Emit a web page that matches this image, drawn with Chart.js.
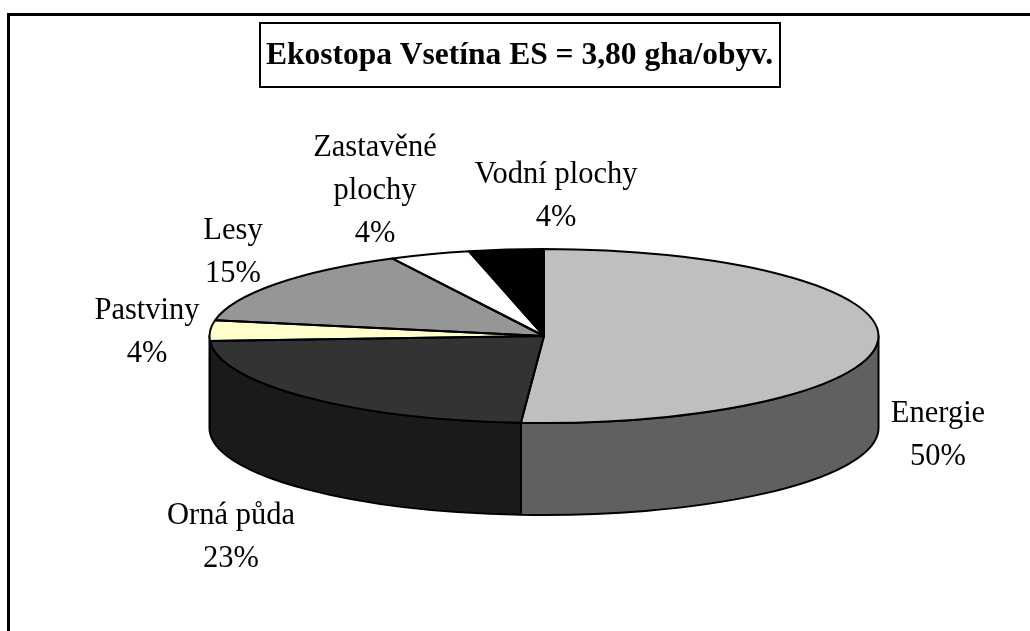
<!DOCTYPE html>
<html>
<head>
<meta charset="utf-8">
<style>
    html, body { margin: 0; padding: 0; background: #fff; overflow: hidden; }
    canvas { display: block; }
</style>
</head>
<body>
<canvas id="pieChart" width="1030" height="631"></canvas>
<script src="https://cdn.jsdelivr.net/npm/chart.js@4/dist/chart.umd.min.js"></script>
<script>
const chartTitle = "Ekostopa Vsetína ES = 3,80 gha/obyv."
const categories = ["Energie", "Orná půda", "Pastviny", "Lesy", "Zastavěné plochy", "Vodní plochy"]
//slice sizes as measured on the picture, the printed percents are rounded differently
const sliceValues = [51.1, 23.0, 3.8, 14.6, 3.9, 3.6]
const printedPercents = ["50%", "23%", "4%", "15%", "4%", "4%"]
const sliceColors = ["#bfbfbf", "#333333", "#ffffcc", "#969696", "#ffffff", "#000000"]
const wallColors = ["#606060", "#1a1a1a", "#808066", "#4b4b4b", "#808080", "#000000"]

const FONT = '"Liberation Serif", "Times New Roman", serif'
const LINE_HEIGHT = 43

//where the flat pie is squashed to
const pie = { cx: 544, cy: 336, rx: 334.5, ry: 87, depth: 92 }

//one entry per category: label centre x, first baseline y, text lines
const labelSpots = [
    { x: 938, y: 422, lines: ["Energie"] },
    { x: 231, y: 524, lines: ["Orná půda"] },
    { x: 147, y: 319, lines: ["Pastviny"] },
    { x: 233, y: 239, lines: ["Lesy"] },
    { x: 375, y: 156, lines: ["Zastavěné", "plochy"] },
    { x: 556, y: 183, lines: ["Vodní plochy"] }
]

function getArcs(chart) {
    return chart.getDatasetMeta(0).data
}

const pie3d = {
    id: "pie3d",
    beforeDraw(chart) {
        const ctx = chart.ctx
        //frame, only top and left are inside the picture
        ctx.save()
        ctx.strokeStyle = "#000"
        ctx.lineWidth = 3
        ctx.beginPath()
        ctx.moveTo(8.5, 631)
        ctx.lineTo(8.5, 14.5)
        ctx.lineTo(1030, 14.5)
        ctx.stroke()
        //box around the title
        ctx.lineWidth = 2
        ctx.strokeRect(260, 23, 520, 64)
        ctx.restore()
    },
    beforeDatasetsDraw(chart) {
        const ctx = chart.ctx
        const arcs = getArcs(chart)
        ctx.save()
        ctx.strokeStyle = "#000"
        ctx.lineWidth = 2
        ctx.lineJoin = "round"
        arcs.forEach((arc, i) => {
            //only the front half of the rim shows
            const start = Math.max(arc.startAngle, 0)
            const end = Math.min(arc.endAngle, Math.PI)
            if (end <= start) return
            ctx.beginPath()
            ctx.ellipse(pie.cx, pie.cy, pie.rx, pie.ry, 0, start, end)
            ctx.ellipse(pie.cx, pie.cy + pie.depth, pie.rx, pie.ry, 0, end, start, true)
            ctx.closePath()
            ctx.fillStyle = wallColors[i]
            ctx.fill()
            ctx.stroke()
        })
        ctx.restore()

        //squash the circle the library draws into the top face
        const first = arcs[0]
        const scale = first.outerRadius
        ctx.save()
        ctx.translate(pie.cx, pie.cy)
        ctx.scale(pie.rx / scale, pie.ry / scale)
        ctx.translate(-first.x, -first.y)
    },
    afterDatasetsDraw(chart) {
        const ctx = chart.ctx
        ctx.restore()

        ctx.save()
        ctx.strokeStyle = "#000"
        ctx.lineWidth = 2
        ctx.lineJoin = "round"
        getArcs(chart).forEach(arc => {
            ctx.beginPath()
            ctx.moveTo(pie.cx, pie.cy)
            ctx.ellipse(pie.cx, pie.cy, pie.rx, pie.ry, 0, arc.startAngle, arc.endAngle)
            ctx.closePath()
            ctx.stroke()
        })

        ctx.fillStyle = "#000"
        ctx.font = `30.5px ${FONT}`
        ctx.textAlign = "center"
        ctx.textBaseline = "alphabetic"
        labelSpots.forEach((spot, i) => {
            const lines = spot.lines.concat(printedPercents[i])
            lines.forEach((line, n) => {
                ctx.fillText(line, spot.x, spot.y + n * LINE_HEIGHT)
            })
        })
        ctx.restore()
    }
}

new Chart(document.getElementById("pieChart"), {
    type: "pie",
    data: {
        labels: categories,
        datasets: [{
            data: sliceValues,
            backgroundColor: sliceColors,
            borderWidth: 0,
            clip: false
        }]
    },
    options: {
        responsive: false,
        animation: false,
        layout: { padding: { left: 9 } },
        plugins: {
            legend: { display: false },
            tooltip: { enabled: false },
            title: {
                display: true,
                text: chartTitle,
                color: "#000",
                font: { family: FONT, size: 31.5, weight: "bold" },
                padding: { top: 37, bottom: 10 }
            }
        }
    },
    plugins: [pie3d]
})
</script>
</body>
</html>
